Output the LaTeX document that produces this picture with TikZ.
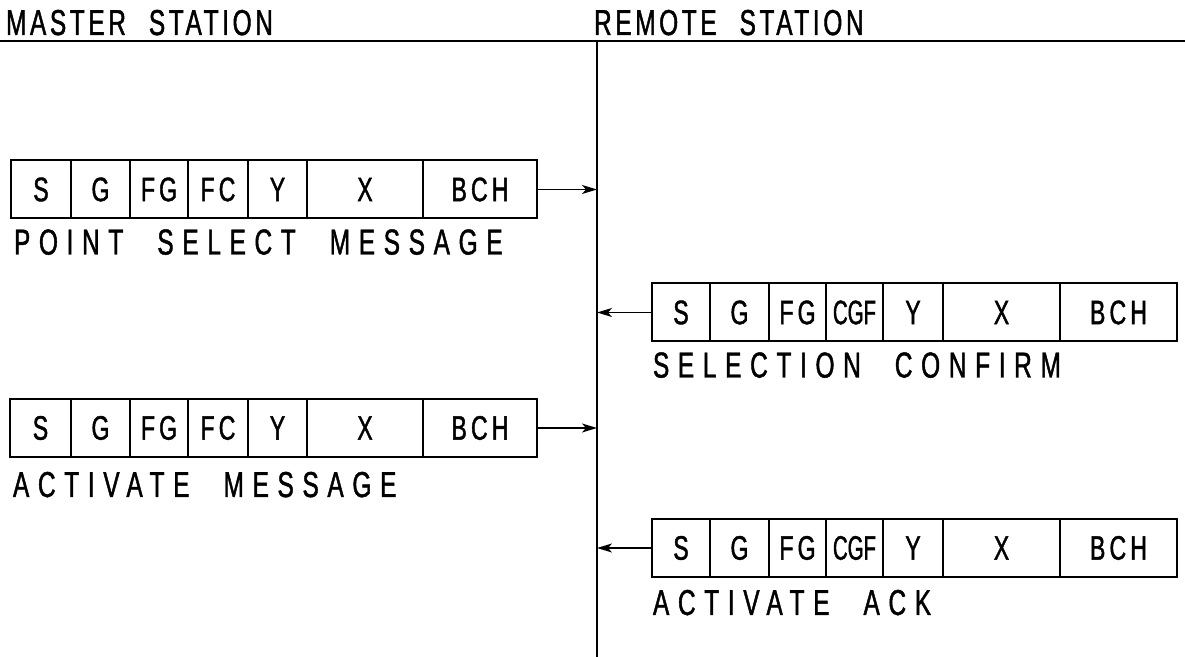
\documentclass[tikz,border=0pt]{standalone}
\usepackage{fontspec}
\newfontfamily\lblfont[FakeStretch=0.68, FakeBold=1.2, LetterSpace=24, WordSpace=2.2]{Liberation Sans}
\newfontfamily\cellfont[FakeStretch=0.68, FakeBold=1.2, LetterSpace=12]{Liberation Sans}
\newfontfamily\cgffont[FakeStretch=0.6, FakeBold=1.2, LetterSpace=0]{Liberation Sans}
\usetikzlibrary{arrows.meta, positioning}

\begin{document}
\begin{tikzpicture}[x=0.5pt, y=-0.5pt, >={Stealth[length=7.5pt, width=4.5pt, inset=2pt]}, line width=1pt,
    cell/.style={draw, minimum height=29pt, inner sep=0pt, outer sep=0pt,
                 font=\cellfont\fontsize{17}{17}\selectfont},
    lbl/.style={anchor=base west, inner sep=0pt, font=\lblfont\fontsize{18}{18}\selectfont},
    head/.style={lbl, font=\lblfont\fontsize{18}{18}\selectfont\addfontfeature{LetterSpace=10}},
    msg/.style={->, line width=0.8pt}]

    \useasboundingbox (0,0) rectangle (1185,657);

    %stations
    \node[head] (master) at (5,35) {MASTER STATION};
    \node[head] (remote) at (593,35) {REMOTE STATION};
    \coordinate (hl) at (0,41);
    \coordinate (hr) at (1185,41);
    \coordinate (rtop) at (597,41);
    \coordinate (rbot) at (597,657);
    \draw[line width=0.8pt] (hl) -- (hr);
    \draw (rtop) -- (rbot);

    %define the frames
    \coordinate (ps0) at (11,189.5);
    \foreach \t/\w [count=\i, remember=\i as \j (initially 0)] in
        {S/30, G/29.5, FG/29, FC/30, Y/29.5, X/58, BCH/57}
        \node[cell, minimum width=\w pt, right=0pt of ps\j] (ps\i) {\t};

    \coordinate (sc0) at (652,312.5);
    \foreach \t/\w [count=\i, remember=\i as \j (initially 0)] in
        {S/29, G/29.5, FG/28.5, {\cgffont CGF}/28.5, Y/30, X/58.5, BCH/58.5}
        \node[cell, minimum width=\w pt, right=0pt of sc\j] (sc\i) {\t};

    \coordinate (am0) at (10,428);
    \foreach \t/\w [count=\i, remember=\i as \j (initially 0)] in
        {S/30.5, G/29.5, FG/29, FC/30, Y/29.5, X/58, BCH/57}
        \node[cell, minimum width=\w pt, right=0pt of am\j] (am\i) {\t};

    \coordinate (aa0) at (652,548);
    \foreach \t/\w [count=\i, remember=\i as \j (initially 0)] in
        {S/29, G/29.5, FG/28.5, {\cgffont CGF}/28.5, Y/30, X/58.5, BCH/58.5}
        \node[cell, minimum width=\w pt, right=0pt of aa\j] (aa\i) {\t};

    %frame names
    \node[lbl] (pslbl) at ([xshift=1pt, yshift=-18pt]ps1.south west) {POINT SELECT MESSAGE};
    \node[lbl] (sclbl) at ([yshift=-18pt]sc1.south west) {SELECTION CONFIRM};
    \node[lbl] (amlbl) at ([xshift=1pt, yshift=-20pt]am1.south west) {ACTIVATE MESSAGE};
    \node[lbl] (aalbl) at ([yshift=-19pt]aa1.south west) {ACTIVATE ACK};

    %define the links
    \draw[msg] (ps7.east) -- (ps7.east -| rtop);
    \draw[msg] (sc1.west) -- (sc1.west -| rtop);
    \draw[msg] (am7.east) -- (am7.east -| rtop);
    \draw[msg] (aa1.west) -- (aa1.west -| rtop);

\end{tikzpicture}
\end{document}
